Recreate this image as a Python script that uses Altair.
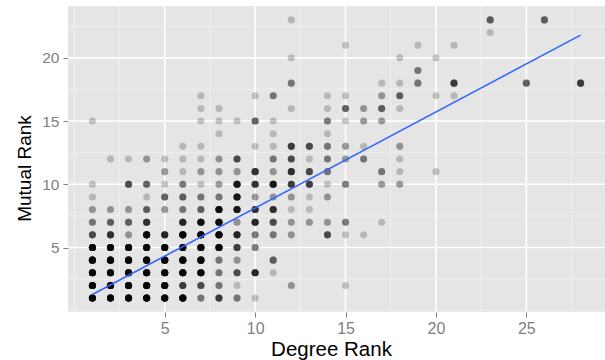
import altair as alt
import pandas as pd

# ---- point data: (Degree Rank, Mutual Rank, number of overlapping observations) ----
pt_x = [
    12, 23, 26,
    23,
    15, 19, 21,
    12, 18, 20,
    19,
    12, 17, 18, 19, 21, 25, 28,
    7, 10, 11, 14, 15, 17, 18, 20, 21,
    7, 8, 12, 14, 15, 16, 17, 18,
    1, 7, 8, 9, 10, 11, 14, 15, 16, 17,
    8, 11, 14,
    6, 7, 10, 11, 12, 13, 14, 15, 16, 18,
    2, 3, 4, 5, 6, 7, 8, 9, 11, 12, 13, 14, 15, 16, 18,
    5, 6, 7, 8, 9, 10, 11, 12, 13, 14, 17, 18, 20,
    1, 3, 4, 5, 6, 7, 8, 9, 10, 11, 12, 13, 14, 15, 17, 18,
    1, 4, 5, 6, 7, 8, 9, 10, 11, 12, 13, 14,
    1, 2, 3, 4, 5, 6, 7, 8, 9, 10, 11, 12, 13,
    1, 2, 3, 4, 6, 7, 8, 9, 10, 11, 12, 13, 14, 15, 17,
    1, 2, 3, 4, 5, 6, 7, 8, 9, 10, 11, 12, 14, 15, 16,
    1, 2, 3, 4, 5, 6, 7, 8, 9, 10,
    1, 2, 3, 4, 5, 6, 7, 8, 9, 11,
    1, 2, 3, 4, 5, 6, 7, 8, 9, 10, 11,
    1, 2, 3, 4, 5, 6, 7, 8, 9, 12, 15,
    1, 2, 3, 4, 5, 6, 7, 8, 9, 10,
]
pt_y = [
    23, 23, 23,
    22,
    21, 21, 21,
    20, 20, 20,
    19,
    18, 18, 18, 18, 18, 18, 18,
    17, 17, 17, 17, 17, 17, 17, 17, 17,
    16, 16, 16, 16, 16, 16, 16, 16,
    15, 15, 15, 15, 15, 15, 15, 15, 15, 15,
    14, 14, 14,
    13, 13, 13, 13, 13, 13, 13, 13, 13, 13,
    12, 12, 12, 12, 12, 12, 12, 12, 12, 12, 12, 12, 12, 12, 12,
    11, 11, 11, 11, 11, 11, 11, 11, 11, 11, 11, 11, 11,
    10, 10, 10, 10, 10, 10, 10, 10, 10, 10, 10, 10, 10, 10, 10, 10,
    9, 9, 9, 9, 9, 9, 9, 9, 9, 9, 9, 9,
    8, 8, 8, 8, 8, 8, 8, 8, 8, 8, 8, 8, 8,
    7, 7, 7, 7, 7, 7, 7, 7, 7, 7, 7, 7, 7, 7, 7,
    6, 6, 6, 6, 6, 6, 6, 6, 6, 6, 6, 6, 6, 6, 6,
    5, 5, 5, 5, 5, 5, 5, 5, 5, 5,
    4, 4, 4, 4, 4, 4, 4, 4, 4, 4,
    3, 3, 3, 3, 3, 3, 3, 3, 3, 3, 3,
    2, 2, 2, 2, 2, 2, 2, 2, 2, 2, 2,
    1, 1, 1, 1, 1, 1, 1, 1, 1, 1,
]
pt_n = [
    1, 4, 4,
    1,
    1, 1, 1,
    1, 1, 1,
    3,
    3, 1, 1, 3, 6, 4, 6,
    1, 1, 3, 1, 1, 2, 4, 1, 1,
    1, 1, 1, 1, 4, 2, 4, 1,
    1, 1, 1, 1, 4, 1, 3, 1, 2, 2,
    1, 1, 1,
    1, 1, 1, 1, 6, 5, 3, 2, 1, 2,
    1, 1, 2, 1, 1, 1, 2, 5, 3, 5, 1, 3, 2, 3, 1,
    2, 1, 2, 2, 2, 7, 2, 7, 5, 3, 3, 1, 1,
    1, 5, 4, 1, 3, 1, 2, 10, 7, 10, 6, 6, 1, 3, 2, 2,
    1, 1, 4, 4, 3, 3, 10, 2, 2, 2, 1, 2,
    2, 2, 2, 4, 2, 3, 4, 12, 10, 7, 7, 1, 1,
    3, 4, 4, 7, 8, 12, 12, 2, 8, 5, 2, 2, 2, 3, 1,
    5, 7, 2, 15, 8, 15, 15, 15, 8, 3, 3, 2, 5, 1, 1,
    15, 15, 15, 15, 15, 15, 15, 15, 6, 3,
    15, 15, 15, 15, 15, 15, 15, 3, 2, 4,
    15, 15, 15, 15, 15, 15, 15, 3, 5, 8, 1,
    15, 15, 15, 15, 15, 6, 5, 3, 1, 2, 1,
    15, 15, 15, 15, 15, 15, 3, 6, 3, 1,
]

# fitted linear trend
fit_x = [1, 28]
fit_y = [1.28, 21.8]

# axis breaks
x_major = [5, 10, 15, 20, 25]
y_major = [5, 10, 15, 20]
x_minor = [0, 2.5, 7.5, 12.5, 17.5, 22.5, 27.5]
y_minor = [0, 2.5, 7.5, 12.5, 17.5, 22.5]

rows = [(x, y) for x, y, n in zip(pt_x, pt_y, pt_n) for _ in range(n)]
pts = pd.DataFrame(rows, columns=["degree", "mutual"])
fit = pd.DataFrame({"degree": fit_x, "mutual": fit_y})
xmaj = pd.DataFrame({"degree": x_major})
ymaj = pd.DataFrame({"mutual": y_major})
xmin = pd.DataFrame({"degree": x_minor})
ymin = pd.DataFrame({"mutual": y_minor})

FONT = "Liberation Sans"
GREY = "#7f7f7f"

xs = alt.Scale(domain=[-0.35, 29.35], nice=False, zero=False)
ys = alt.Scale(domain=[-0.1, 24.1], nice=False, zero=False)

xaxis = alt.Axis(
    values=x_major, grid=False, domain=False,
    tickColor=GREY, tickSize=5, tickWidth=1,
    labelColor=GREY, labelFont=FONT, labelFontSize=16, labelPadding=3,
    title="Degree Rank", titleFont=FONT, titleFontSize=20.5,
    titleFontWeight="normal", titleColor="black",
    titleX=263, titleY=43, titleBaseline="alphabetic", titleAlign="center",
)
yaxis = alt.Axis(
    values=y_major, grid=False, domain=False,
    tickColor=GREY, tickSize=5, tickWidth=1,
    labelColor=GREY, labelFont=FONT, labelFontSize=15.5, labelPadding=4,
    title="Mutual Rank", titleFont=FONT, titleFontSize=19,
    titleFontWeight="normal", titleColor="black",
    titleAngle=270, titleX=-38, titleY=162, titleBaseline="alphabetic",
    titleAlign="center",
)

X = alt.X("degree:Q", scale=xs, axis=xaxis)
Y = alt.Y("mutual:Q", scale=ys, axis=yaxis)

minor_v = alt.Chart(xmin).mark_rule(color="#f2f2f2", strokeWidth=0.8).encode(x=X)
minor_h = alt.Chart(ymin).mark_rule(color="#f2f2f2", strokeWidth=0.8).encode(y=Y)
major_v = alt.Chart(xmaj).mark_rule(color="white", strokeWidth=1.6).encode(x=X)
major_h = alt.Chart(ymaj).mark_rule(color="white", strokeWidth=1.6).encode(y=Y)

points = alt.Chart(pts).mark_circle(color="black", opacity=0.2, size=50).encode(x=X, y=Y)
line = alt.Chart(fit).mark_line(color="#3366FF", strokeWidth=1.6).encode(x=X, y=Y)

chart = (
    alt.layer(minor_v, minor_h, major_v, major_h, points, line)
    .properties(
        width=537, height=306,
        padding={"left": 68, "top": 6, "right": 0, "bottom": 48},
        autosize=alt.AutoSizeParams(type="none"),
        background="white",
    )
    .configure_view(fill="#E5E5E5", strokeWidth=0)
)

chart.save("out.html", embed_options={"renderer": "svg", "actions": False})
